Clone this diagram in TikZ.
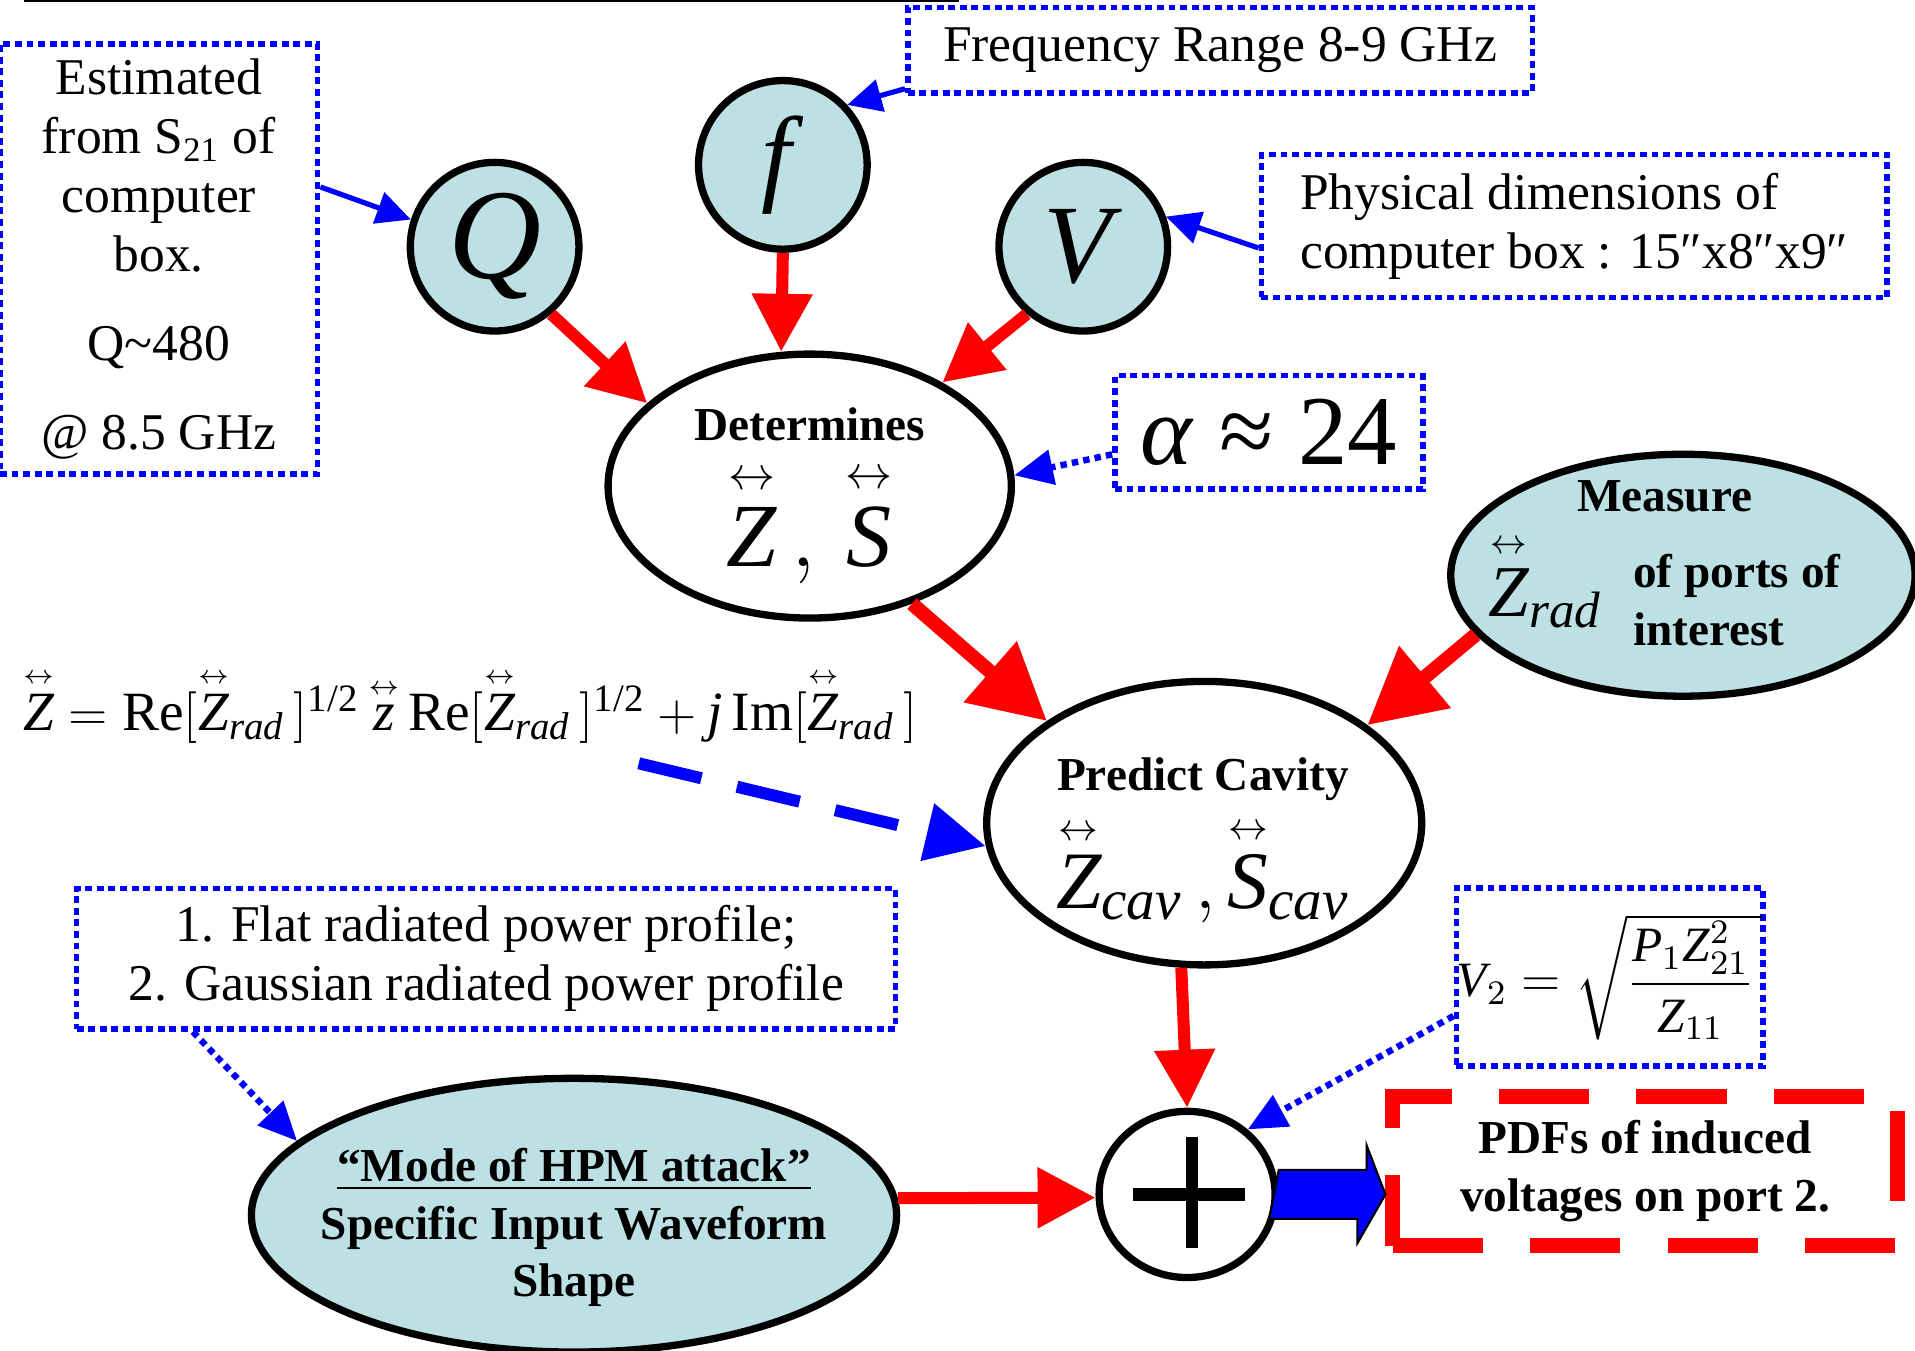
\documentclass[tikz,border=0pt]{standalone}
\usepackage{amsmath}
\usepackage{fontspec}
\setmainfont{Liberation Serif}
\usetikzlibrary{shapes.geometric, arrows.meta, calc}
\definecolor{paleblue}{RGB}{188,224,227}
\newcommand{\dbl}[1]{\overset{\scriptscriptstyle\leftrightarrow}{#1}}

\begin{document}
\begin{tikzpicture}[
    x = 0.01cm, y = -0.01cm,
    ball/.style = {draw, ellipse,
      line width = 1.7pt,
      fill = paleblue,
      inner sep = 0pt},
    bubble/.style = {draw, ellipse,
      line width = 1.7pt,
      fill = white,
      inner sep = 0pt},
    note/.style = {draw = blue,
      line width = 1.3pt,
      dash pattern = on 1.6pt off 1.1pt,
      inner sep = 0pt,
      font = \fontsize{12}{13.7}\selectfont},
    caption/.style = {align = center,
      font = \bfseries\fontsize{11}{13.5}\selectfont},
    feed/.style = {red, line width = 2.8pt,
      -{Triangle[length = 13.5pt, width = 13.5pt]}},
    bigfeed/.style = {red, line width = 3.3pt,
      -{Triangle[length = 17.5pt, width = 18pt]}},
    hint/.style = {blue, line width = 1.2pt,
      -{Triangle[length = 8pt, width = 7.5pt]}},
    dothint/.style = {blue, line width = 1.5pt,
      dash pattern = on 1.5pt off 1.2pt,
      -{Triangle[length = 9pt, width = 8pt]}},
    ]

    \useasboundingbox (0, 0) rectangle (1568, 1106);
    \draw [line width = 0.8pt] (20, 0) -- (785, 0);

    % the three inputs
    \node at (405, 202) [ball, minimum size = 1.38cm, name = Q]
    {\fontsize{30}{30}\selectfont\textit{Q}};
    \node at (641, 135) [ball, minimum size = 1.38cm, name = f]
    {\fontsize{25}{25}\selectfont\textit{f}};
    \node at (887, 202) [ball, minimum size = 1.38cm, name = V]
    {\fontsize{26}{26}\selectfont\textit{V}};

    \node at (130, 212)
    [note, minimum width = 2.60cm, minimum height = 3.52cm,
      align = center, name = est]
    {Estimated\\from S\textsubscript{21} of\\computer\\box.\\[7pt]
      Q\textasciitilde480\\[7pt]@ 8.5 GHz};
    \node at (999, 41)
    [note, minimum width = 5.11cm, minimum height = 0.70cm, name = freq]
    {Frequency Range 8-9 GHz};
    \node at (1289, 185)
    [note, minimum width = 5.12cm, minimum height = 1.17cm,
      align = left, name = dims]
    {Physical dimensions of\\computer box : 15″x8″x9″};
    \node at (1039, 354)
    [note, minimum width = 2.52cm, minimum height = 0.93cm, name = alpha]
    {\fontsize{23}{23}\selectfont\textit{α} ≈ 24};

    % middle stage
    \node at (663, 398)
    [bubble, minimum width = 3.30cm, minimum height = 2.16cm, name = det] {};
    \node at (663, 406) [caption]
    {Determines\\[4pt]\mdseries\fontsize{21}{21}\selectfont
      $\dbl{\textit{Z}}\,,\,\dbl{\textit{S}}$};

    \node at (385, 578) [font = \fontsize{12.9}{15}\selectfont, name = zform]
    {$\dbl{\textit{Z}} = \textrm{Re}[\dbl{\textit{Z}}_{\textit{rad}}\,]^{\textrm{1/2}}
      \,\dbl{\textit{z}}\,\textrm{Re}[\dbl{\textit{Z}}_{\textit{rad}}\,]^{\textrm{1/2}}
      + \textit{j}\,\textrm{Im}[\dbl{\textit{Z}}_{\textit{rad}}\,]$};

    \node at (1378, 471)
    [ball, minimum width = 3.80cm, minimum height = 1.98cm, name = meas] {};
    \node at (1363, 468) [caption]
    {Measure\\[4pt]\mdseries\fontsize{17}{17}\selectfont
      $\dbl{\textit{Z}}_{\textit{rad}}$\,
      \bfseries\fontsize{11}{13.5}\selectfont
      \begin{tabular}[c]{@{}l@{}}of ports of\\interest\end{tabular}};

    \node at (986, 674)
    [bubble, minimum width = 3.56cm, minimum height = 2.32cm, name = pred] {};
    \node at (985, 688) [caption]
    {Predict Cavity\\[3pt]\mdseries\fontsize{19}{19}\selectfont
      $\dbl{\textit{Z}}_{\textit{cav}}\,,\dbl{\textit{S}}_{\textit{cav}}$};

    % bottom stage
    \node at (398, 785)
    [note, minimum width = 6.70cm, minimum height = 1.15cm,
      align = center, name = flat]
    {1. Flat radiated power profile;\\2. Gaussian radiated power profile};

    \node at (470, 995)
    [ball, minimum width = 5.28cm, minimum height = 2.24cm, name = mode] {};
    \node at (470, 1005) [caption]
    {\underline{“Mode of HPM attack”}\\Specific Input Waveform\\Shape};

    \node at (972, 978)
    [bubble, minimum width = 1.44cm, minimum height = 1.36cm, name = plus] {};
    \draw [line width = 3pt] ($(plus) + (-44, 0)$) -- ($(plus) + (47, 0)$);
    \draw [line width = 3pt] ($(plus) + (4, -47)$) -- ($(plus) + (4, 44)$);

    \node at (1318, 800)
    [note, minimum width = 2.51cm, minimum height = 1.46cm, name = vtwo]
    {\fontsize{11.5}{14}\selectfont
      $\textit{V}_{2} = \sqrt{\dfrac{\textit{P}_{1}\textit{Z}^{2}_{21}}{\textit{Z}_{11}}\,}$};

    \node at (1347, 959)
    [draw = red, line width = 3.4pt, dash pattern = on 21pt off 11pt,
      minimum width = 4.13cm, minimum height = 1.22cm,
      caption, name = pdf]
    {PDFs of induced\\voltages on port 2.};

    % connectors
    \draw [feed] (Q.-50) to (det.153);
    \draw [feed] (f.-90) to (det.102);
    \draw [feed] (V.-130) to (det.38);
    \draw [bigfeed] (det.-49) to (pred.147);
    \draw [bigfeed] (meas.196) to (pred.31);
    \draw [feed] (pred.-99) to (plus.90);
    \draw [feed] (mode.3) to (plus.182);

    \draw [hint] (est.24) to (Q.162);
    \draw [hint] (freq.187) to (f.43);
    \draw [hint] (dims.184) to (V.20);
    \draw [dothint] (alpha.188) to (det.3.5);
    \draw [dothint] (flat.194) to (mode.165);
    \draw [dothint] (vtwo.194) to (plus.47);

    \coordinate (dashtail) at (523, 625);
    \draw [blue, line width = 2.8pt, dash pattern = on 15pt off 8.5pt,
      -{Triangle[length = 14pt, width = 13pt]}] (dashtail) to (pred.186);

    \draw [fill = blue, line width = 0.5pt]
    (plus.east) ++(0, -20) -- ++(72, 0) -- ++(0, -20)
    -- (pdf.west |- plus.east) -- ++(-23, 40) -- ++(0, -20)
    -- ++(-72, 0) -- cycle;

  \end{tikzpicture}
\end{document}
